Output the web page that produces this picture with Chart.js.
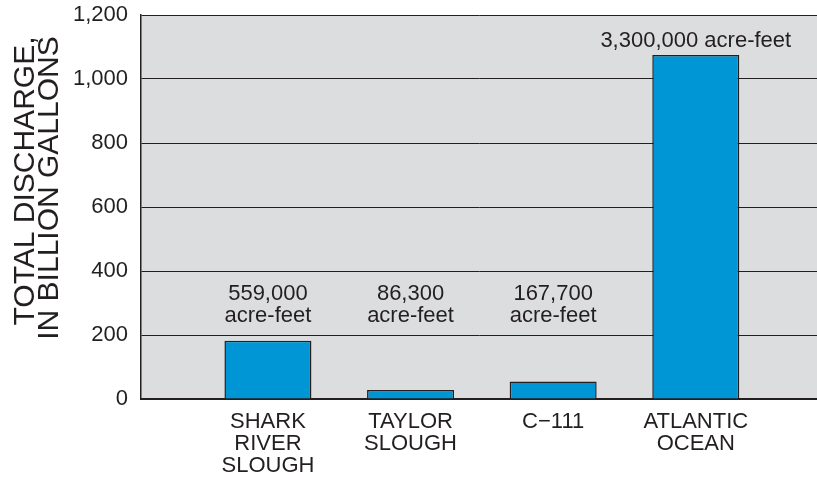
<!DOCTYPE html>
<html>
<head>
<meta charset="utf-8">
<script src="https://cdn.jsdelivr.net/npm/chart.js@4/dist/chart.umd.min.js"></script>
<style>
  html, body { margin: 0; padding: 0; background: #ffffff; }
  #wrap { width: 817px; height: 480px; }
</style>
</head>
<body>
<div id="wrap"><canvas id="c" width="817" height="480"></canvas></div>
<script>
// ---- data ----
const categories = [
  ['SHARK', 'RIVER', 'SLOUGH'],
  ['TAYLOR', 'SLOUGH'],
  ['C\u2212111'],
  ['ATLANTIC', 'OCEAN']
];
const dischargeBillionGallons = [182, 28, 55, 1075];
const acreFeetLabels = [
  ['559,000', 'acre-feet'],
  ['86,300', 'acre-feet'],
  ['167,700', 'acre-feet'],
  ['3,300,000 acre-feet']
];
const yTitleLines = ['TOTAL DISCHARGE,', 'IN BILLION GALLONS'];

const FONT = '"Liberation Sans", Arial, Helvetica, sans-serif';
const INK = '#231f20';

const plotBackground = {
  id: 'plotBackground',
  beforeDraw(chart) {
    const { ctx, chartArea: a } = chart;
    ctx.save();
    ctx.fillStyle = '#dcdddf';
    ctx.fillRect(a.left, a.top, a.right - a.left, a.bottom - a.top);
    ctx.restore();
  }
};

const yTitle = {
  id: 'yTitle',
  afterDraw(chart) {
    const { ctx } = chart;
    const pos = [[34, 181], [58, 188]];
    ctx.save();
    ctx.fillStyle = INK;
    ctx.font = '30px ' + FONT;
    ctx.textAlign = 'center';
    ctx.textBaseline = 'alphabetic';
    yTitleLines.forEach((t, i) => {
      ctx.save();
      ctx.translate(pos[i][0], pos[i][1]);
      ctx.rotate(-Math.PI / 2);
      ctx.fillText(t, 0, 0);
      ctx.restore();
    });
    ctx.restore();
  }
};

const barLabels = {
  id: 'barLabels',
  afterDatasetsDraw(chart) {
    const { ctx } = chart;
    const meta = chart.getDatasetMeta(0);
    const yScale = chart.scales.y;
    const lineH = 22;
    ctx.save();
    ctx.fillStyle = INK;
    ctx.font = '22px ' + FONT;
    ctx.textAlign = 'center';
    ctx.textBaseline = 'alphabetic';
    meta.data.forEach((bar, i) => {
      const lines = acreFeetLabels[i];
      const bottom = Math.min(bar.y - 8, yScale.getPixelForValue(240));
      for (let k = lines.length - 1, j = 0; k >= 0; k--, j++) {
        ctx.fillText(lines[k], bar.x, bottom - j * lineH);
      }
    });
    ctx.restore();
  }
};

new Chart(document.getElementById('c'), {
  type: 'bar',
  data: {
    datasets: [{
      data: dischargeBillionGallons.map((v, i) => ({ x: i + 1, y: v })),
      backgroundColor: '#0096d6',
      borderColor: INK,
      borderWidth: 1.5,
      categoryPercentage: 1,
      barPercentage: 0.61
    }]
  },
  options: {
    responsive: false,
    devicePixelRatio: 1,
    animation: false,
    layout: { padding: { top: 15, left: 0, right: 0, bottom: 0 } },
    plugins: { legend: { display: false }, tooltip: { enabled: false } },
    scales: {
      x: {
        type: 'linear',
        offset: false,
        min: 0.11,
        max: 4.85,
        grid: { display: false, drawTicks: false },
        border: { display: true, color: INK, width: 2 },
        afterBuildTicks(scale) {
          scale.ticks = categories.map((c, i) => ({ value: i + 1 }));
        },
        afterFit(scale) {
          scale.height = 81;
          scale.paddingLeft = 0;
          scale.paddingRight = 0;
        },
        ticks: {
          autoSkip: false,
          maxRotation: 0,
          minRotation: 0,
          padding: 12,
          color: INK,
          font: { family: FONT, size: 22, lineHeight: 1.0 },
          callback: (value) => categories[Math.round(value) - 1]
        }
      },
      y: {
        min: 0,
        max: 1200,
        grid: { color: INK, lineWidth: 1, drawTicks: false },
        border: { display: true, color: INK, width: 1.5 },
        afterFit(scale) {
          scale.width = 141;
          scale.paddingTop = 0;
          scale.paddingBottom = 0;
        },
        ticks: {
          stepSize: 200,
          padding: 13,
          color: INK,
          font: { family: FONT, size: 22 }
        }
      }
    }
  },
  plugins: [plotBackground, barLabels, yTitle]
});
</script>
</body>
</html>
